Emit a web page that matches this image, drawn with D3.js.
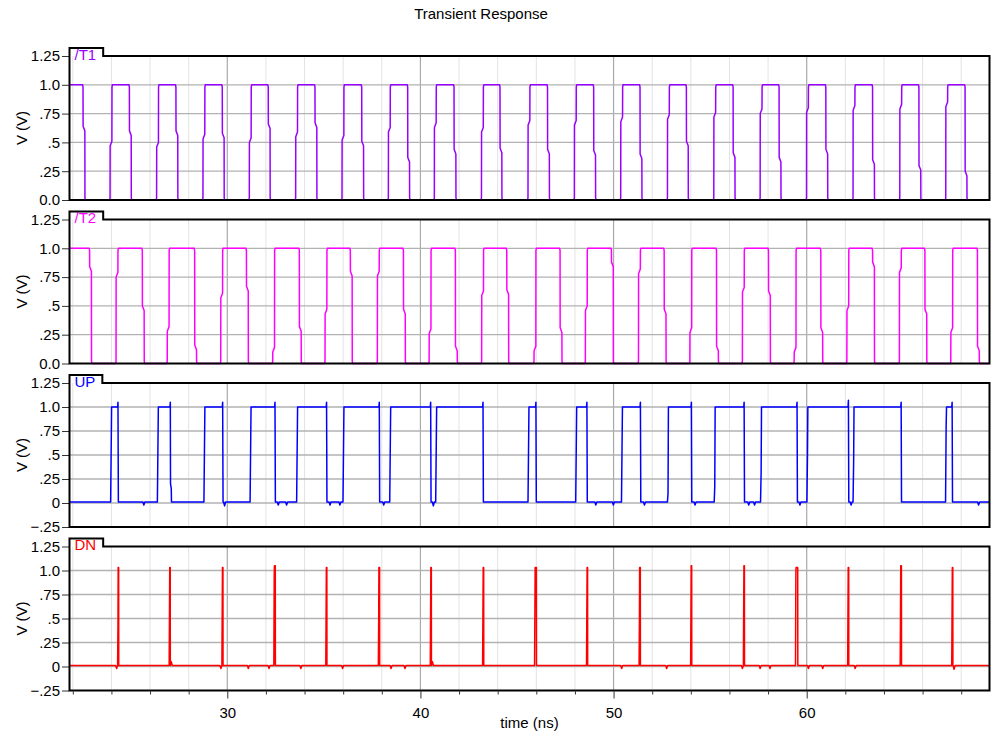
<!DOCTYPE html>
<html><head><meta charset="utf-8">
<script src="https://cdn.jsdelivr.net/npm/d3@7"></script>
<style>
body{margin:0;background:#fff;}
svg{display:block;font-family:"Liberation Sans",Arial,Helvetica,sans-serif;}
</style>
</head><body>
<svg id="c" width="992" height="740"></svg>
<script>
// ---------------- data ----------------
const chartTitle = "Transient Response";
const xAxisTitle = "time (ns)";
const yAxisTitle = "V (V)";
const timeDomain = [21.83, 69.465];
const xMajorTicks = [30, 40, 50, 60];
const xMinorTicks = [22, 24, 26, 28, 32, 34, 36, 38, 42, 44, 46, 48, 52, 54, 56, 58, 62, 64, 66, 68];
const yTicksDigital = [0, 0.25, 0.5, 0.75, 1.0, 1.25];
const yLabelsDigital = ["0.0", ".25", ".5", ".75", "1.0", "1.25"];
const yTicksAnalog = [-0.25, 0, 0.25, 0.5, 0.75, 1.0, 1.25];
const yLabelsAnalog = ["\u2212.25", "0", ".25", ".5", ".75", "1.0", "1.25"];
const signalNames = ["/T1", "/T2", "UP", "DN"];
const signalColors = ["#9900ff", "#ff00ff", "#0000ff", "#ff0000"];

// /T1 edges: [time (ns), intermediate kink level (V)]
const t1Falls = [[22.58,0.62],[24.98,0.58],[27.39,0.58],[29.79,0.56],[32.17,0.64],[34.59,0.65],[37.01,0.49],
  [39.39,0.35],[41.79,0.42],[44.17,0.43],[46.63,0.42],[49.02,0.41],[51.42,0.38],[53.82,0.49],[56.24,0.39],
  [58.62,0.35],[61.04,0.42],[63.46,0.33],[65.86,0.28],[68.25,0.23]];
const t1Rises = [[23.98,0.49],[26.39,0.48],[28.79,0.55],[31.19,0.52],[33.59,0.57],[35.99,0.54],[38.39,0.61],
  [40.77,0.65],[43.21,0.61],[45.62,0.67],[48.02,0.67],[50.42,0.70],[52.84,0.72],[55.24,0.74],[57.64,0.77],
  [60.04,0.78],[62.45,0.80],[64.87,0.81],[67.25,0.83]];

// /T2 edges
const t2Falls = [[22.92,0.82],[25.65,0.48],[28.36,0.14],[31.04,0.65],[33.78,0.30],[36.42,0.78],[39.17,0.45],
  [41.86,0.13],[44.52,0.62],[47.28,0.29],[49.94,0.86],[52.67,0.45],[55.38,0.13],[58.07,0.61],[60.78,0.29],
  [63.46,0.86],[66.17,0.45],[68.89,0.13]];
const t2Rises = [[24.29,0.77],[26.94,0.30],[29.71,0.59],[32.40,0.12],[35.11,0.45],[37.82,0.78],[40.50,0.28],
  [43.22,0.61],[45.93,0.13],[48.59,0.48],[51.34,0.80],[54.00,0.29],[56.72,0.64],[59.40,0.12],[62.13,0.48],
  [64.85,0.81],[67.51,0.29]];

// UP pulses: [rise, fall, rise kink level or null, overshoot peak, fall kink level or null]
const upPulses = [[24.01,24.36,null,1.05,null],[26.43,27.07,null,1.05,0.20],[28.84,29.78,null,1.05,null],
  [31.23,32.49,null,1.05,null],[33.64,35.16,null,1.05,null],[36.04,37.89,null,1.05,null],
  [38.46,40.55,null,1.05,null],[40.84,43.26,null,1.05,null],[45.62,46.00,null,1.05,null],
  [48.09,48.64,null,1.05,null],[50.46,51.41,null,1.05,null],[52.84,54.05,0.10,1.05,null],
  [55.26,56.78,0.17,1.05,null],[57.66,59.52,0.31,1.05,null],[60.06,62.18,0.49,1.07,null],
  [62.45,64.91,0.42,1.05,null],[67.24,67.55,0.80,1.05,null]];
// UP small baseline glitches: [time, level]
const upGlitches = [[25.68,-0.02],[29.86,-0.03],[32.64,-0.02],[33.07,-0.02],[35.32,-0.02],[35.83,-0.02],
  [38.10,-0.02],[40.67,-0.03],[49.08,-0.02],[49.99,-0.02],[51.60,-0.02],[54.22,-0.02],[57.00,-0.02],
  [57.30,-0.02],[59.65,-0.02],[62.30,-0.02],[68.90,-0.02]];

// DN spikes: [rise, fall, rise kink level or null, peak]
const dnSpikes = [[24.34,24.38,0.45,1.03],[27.01,27.05,null,1.03],[29.74,29.78,null,1.03],[32.43,32.49,0.95,1.05],
  [35.12,35.16,null,1.03],[37.84,37.89,0.49,1.03],[40.53,40.57,null,1.03],[43.24,43.28,null,1.03],
  [45.93,46.01,null,1.03],[48.62,48.66,null,1.03],[51.34,51.39,0.52,1.03],[54.01,54.05,null,1.05],
  [56.74,56.78,null,1.05],[59.44,59.54,0.98,1.03],[62.14,62.18,null,1.03],[64.86,64.91,0.66,1.05],
  [67.53,67.57,null,1.03]];
// DN small baseline glitches: [time, level]
const dnGlitches = [[24.27,-0.02],[27.10,0.05],[29.67,-0.02],[31.09,-0.02],[32.16,-0.02],[33.81,-0.02],
  [35.97,-0.02],[38.48,-0.02],[39.20,-0.02],[40.62,0.05],[50.42,-0.02],[52.75,-0.02],[56.67,-0.02],
  [57.59,-0.02],[58.10,-0.02],[60.09,-0.02],[60.83,-0.02],[62.51,-0.02],[67.63,-0.03]];

// ---------------- waveform point builders ----------------
function squareWave(startHigh, falls, rises) {
  const edges = falls.map(d => ({t: d[0], k: d[1], up: false}))
    .concat(rises.map(d => ({t: d[0], k: d[1], up: true})))
    .sort((a, b) => a.t - b.t);
  let level = startHigh ? 1 : 0;
  const pts = [[timeDomain[0], level]];
  edges.forEach(e => {
    const from = e.up ? 0 : 1, to = e.up ? 1 : 0, s = e.up ? 1 : -1;
    pts.push([e.t - 0.07, from]);
    pts.push([e.t - 0.05, from + s * 0.02]);
    pts.push([e.t - 0.045, e.k - s * 0.02]);
    pts.push([e.t + 0.045, e.k + s * 0.02]);
    pts.push([e.t + 0.05, to - s * 0.02]);
    pts.push([e.t + 0.07, to]);
    level = to;
  });
  pts.push([timeDomain[1], level]);
  return pts;
}
function glitchPts(g, base) {
  return [[g[0] - 0.05, base], [g[0], g[1]], [g[0] + 0.05, base]];
}
function upWave() {
  const base = 0.01;
  const feats = upPulses.map(p => ({t: p[0], p})).concat(upGlitches.map(g => ({t: g[0], g})))
    .sort((a, b) => a.t - b.t);
  const pts = [[timeDomain[0], base]];
  feats.forEach(f => {
    if (f.g) { pts.push(...glitchPts(f.g, base)); return; }
    const [r, fl, rk, over, fk] = f.p;
    pts.push([r - 0.05, base]);
    if (rk !== null) pts.push([r - 0.02, rk]);
    pts.push([r, 1.0]);
    pts.push([fl - 0.04, 1.0]);
    pts.push([fl - 0.02, over]);
    if (fk !== null) { pts.push([fl - 0.01, fk]); pts.push([fl + 0.03, fk - 0.05]); pts.push([fl + 0.04, base]); }
    else pts.push([fl, base]);
  });
  pts.push([timeDomain[1], base]);
  return pts;
}
function dnWave() {
  const base = 0.01;
  const feats = dnSpikes.map(p => ({t: p[0], p})).concat(dnGlitches.map(g => ({t: g[0], g})))
    .sort((a, b) => a.t - b.t);
  const pts = [[timeDomain[0], base]];
  feats.forEach(f => {
    if (f.g) { pts.push(...glitchPts(f.g, base)); return; }
    const [r, fl, k, peak] = f.p;
    pts.push([r - 0.02, base]);
    if (k !== null) pts.push([r, k]);
    pts.push([r + 0.01, peak]);
    pts.push([fl - 0.005, peak]);
    pts.push([fl, base]);
  });
  pts.push([timeDomain[1], base]);
  return pts;
}

// ---------------- drawing ----------------
const svg = d3.select("#c");
const plotLeft = 69.5, plotRight = 989.5;
const x = d3.scaleLinear().domain(timeDomain).range([plotLeft, plotRight]);

const panels = [
  {yDomain: [0, 1.25], ticks: yTicksDigital, labels: yLabelsDigital, pts: squareWave(true, t1Falls, t1Rises)},
  {yDomain: [0, 1.25], ticks: yTicksDigital, labels: yLabelsDigital, pts: squareWave(true, t2Falls, t2Rises)},
  {yDomain: [-0.25, 1.25], ticks: yTicksAnalog, labels: yLabelsAnalog, pts: upWave()},
  {yDomain: [-0.25, 1.25], ticks: yTicksAnalog, labels: yLabelsAnalog, pts: dnWave()}
];

svg.append("text").attr("x", 481).attr("y", 18.5).attr("text-anchor", "middle")
  .attr("font-size", 15).attr("fill", "#000").text(chartTitle);

const defs = svg.append("defs");

panels.forEach((p, i) => {
  const top = 56 + i * 163.5, bottom = top + 144;
  const y = d3.scaleLinear().domain(p.yDomain).range([bottom, top]);
  const g = svg.append("g");

  // vertical grid
  g.selectAll(".vmin").data(xMinorTicks).join("line")
    .attr("x1", d => x(d)).attr("x2", d => x(d)).attr("y1", top).attr("y2", bottom)
    .attr("stroke", "#e3e3e3").attr("stroke-width", 1);
  g.selectAll(".vmaj").data(xMajorTicks).join("line")
    .attr("x1", d => x(d)).attr("x2", d => x(d)).attr("y1", top).attr("y2", bottom)
    .attr("stroke", "#a9a9a9").attr("stroke-width", 1.2);
  // horizontal grid
  g.selectAll(".h").data(p.ticks.filter(v => v > p.yDomain[0] && v < p.yDomain[1])).join("line")
    .attr("x1", plotLeft).attr("x2", plotRight).attr("y1", d => y(d)).attr("y2", d => y(d))
    .attr("stroke", "#b2b2b2").attr("stroke-width", 1.3);

  // y axis
  const ax = d3.axisLeft(y).tickValues(p.ticks).tickFormat((d, j) => p.labels[j]).tickSize(7).tickPadding(2);
  const ag = g.append("g").attr("transform", `translate(${plotLeft - 0.5},0)`).call(ax);
  ag.select(".domain").remove();
  ag.selectAll(".tick line").attr("stroke", "#333").attr("stroke-width", 1);
  ag.selectAll(".tick text").attr("font-size", 15).attr("fill", "#000")
    .attr("font-family", "'Liberation Sans',Arial,sans-serif");

  // y title
  g.append("text").attr("transform", `translate(22,${(top + bottom) / 2}) rotate(-90)`)
    .attr("text-anchor", "middle").attr("dy", "0.35em").attr("font-size", 15).text(yAxisTitle);

  // signal
  const cid = "clip" + i;
  defs.append("clipPath").attr("id", cid).append("rect")
    .attr("x", plotLeft).attr("y", top - 3).attr("width", plotRight - plotLeft).attr("height", bottom - top + 6);
  const line = d3.line().x(d => x(d[0])).y(d => y(d[1]));
  g.append("path").datum(p.pts).attr("clip-path", `url(#${cid})`).attr("d", line)
    .attr("fill", "none").attr("stroke", signalColors[i]).attr("stroke-width", 1.5)
    .attr("stroke-linejoin", "round");

  // tab label + frame
  const lbl = g.append("text").attr("x", plotLeft + 5).attr("y", top + 3.5)
    .attr("font-size", 15).attr("fill", signalColors[i]).text(signalNames[i]);
  const tw = lbl.node().getComputedTextLength();
  const tabRight = plotLeft + 5 + tw + 7, tabTop = top - 8;
  g.append("path")
    .attr("d", `M${plotLeft},${bottom}V${tabTop}H${tabRight}V${top}H${plotRight}V${bottom}Z`)
    .attr("fill", "none").attr("stroke", "#000").attr("stroke-width", 2);

  // x axis on the last panel
  if (i === panels.length - 1) {
    const xa = d3.axisBottom(x).tickValues(xMajorTicks).tickFormat(d3.format("d")).tickSize(8).tickPadding(9);
    const xg = g.append("g").attr("transform", `translate(0,${bottom})`).call(xa);
    xg.select(".domain").remove();
    xg.selectAll(".tick line").attr("stroke", "#333");
    xg.selectAll(".tick text").attr("font-size", 15).attr("fill", "#000")
      .attr("font-family", "'Liberation Sans',Arial,sans-serif");
    const xm = d3.axisBottom(x).tickValues(xMinorTicks).tickFormat("").tickSize(4);
    const xmg = g.append("g").attr("transform", `translate(0,${bottom})`).call(xm);
    xmg.select(".domain").remove();
    xmg.selectAll(".tick line").attr("stroke", "#333");
    g.append("text").attr("x", (plotLeft + plotRight) / 2).attr("y", 728).attr("text-anchor", "middle")
      .attr("font-size", 15).text(xAxisTitle);
  }
});
</script>
</body></html>
